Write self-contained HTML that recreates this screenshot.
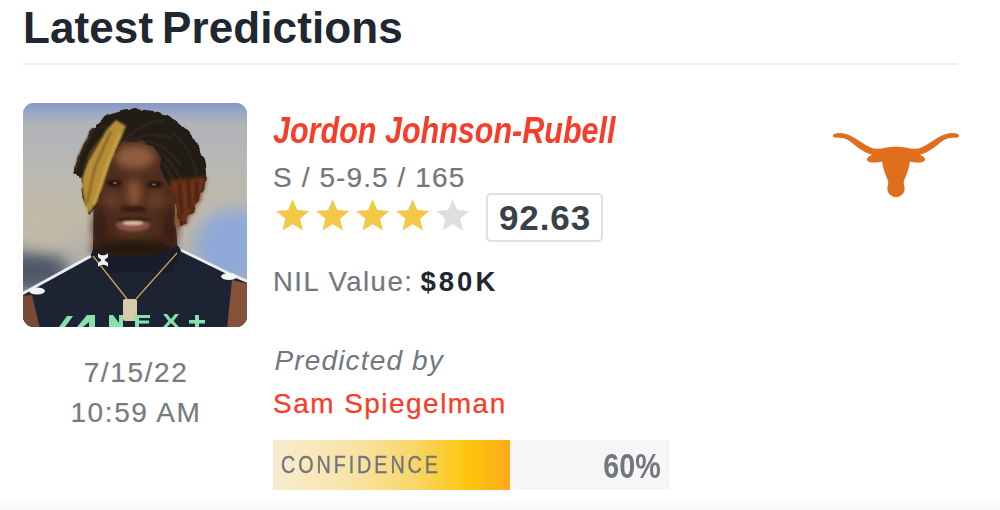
<!DOCTYPE html>
<html>
<head>
<meta charset="utf-8">
<title>Latest Predictions</title>
<style>
*{box-sizing:border-box;margin:0;padding:0}
html,body{width:1000px;height:510px;overflow:hidden;background:#fff}
body{font-family:"Liberation Sans",sans-serif;position:relative;color:#6f747c}
.abs{position:absolute;white-space:nowrap;line-height:1}
#title{left:23px;top:5.500px;font-size:44px;font-weight:bold;color:#1f2731;letter-spacing:0.1px;word-spacing:-3.500px}
#rule{position:absolute;left:23px;top:62.500px;width:935px;height:2px;background:#eceef6}
#photo{position:absolute;left:23px;top:103px;width:224px;height:224px;border-radius:11px;overflow:hidden;background:#aab3c4}
#photo svg{display:block;width:224px;height:224px}
#name{left:273px;top:111.8px;font-size:37px;font-weight:bold;font-style:italic;color:#f83c27;transform-origin:0 0;transform:scaleX(0.825)}
#pos{left:273px;top:164px;font-size:28px;color:#72777f;letter-spacing:1.1px;-webkit-text-stroke:0.2px #72777f}
#stars{position:absolute;left:270px;top:195px;width:210px;height:42px}
#rating{position:absolute;left:486px;top:193px;width:117px;height:49px;border:2px solid #dde2e7;border-radius:5px;background:#fff}
#rating span{position:absolute;left:1px;right:0;top:5px;text-align:center;font-size:35px;font-weight:bold;color:#39414b;line-height:1;letter-spacing:0.9px}
#nil{left:273px;top:268px;font-size:27.500px;color:#72777f;letter-spacing:1.500px;-webkit-text-stroke:0.2px #72777f}
#nilv{left:420.5px;top:268px;font-size:27.5px;font-weight:bold;color:#1f2731;letter-spacing:3px}
#date{left:36px;width:200px;text-align:center;top:353.3px;font-size:28px;color:#767b83;line-height:40px;letter-spacing:1.600px;-webkit-text-stroke:0.2px #767b83}
#predby{left:274.500px;top:346.800px;font-size:28px;font-style:italic;color:#72777f;letter-spacing:1.15px}
#who{left:273px;top:389.600px;font-size:28px;color:#f83c27;letter-spacing:1.46px;-webkit-text-stroke:0.25px #f83c27}
#bar{position:absolute;left:273px;top:440px;width:396.5px;height:50px;background:#f6f6f6}
#fill{position:absolute;left:0;top:0;width:237.300px;height:50px;background:linear-gradient(90deg,#f8ecd0 0%,#f8e3a4 35%,#f9d666 60%,#fdc60c 82%,#fda91a 100%)}
#conf{left:7.5px;top:14px;font-size:23.5px;color:#6f747c;-webkit-text-stroke:0.35px #6f747c;letter-spacing:3.5px;transform-origin:0 0;transform:scaleX(0.84)}
#pct{right:9px;top:8.900px;font-size:35.800px;font-weight:bold;color:#72777f;transform-origin:100% 0;transform:scaleX(0.8)}
#foot{position:absolute;left:0;top:495px;width:1000px;height:15px;background:linear-gradient(180deg,#ffffff 0%,#f7f7f7 100%)}
#logo{position:absolute;left:828px;top:125px;width:136px;height:80px}
</style>
</head>
<body>
<div id="title" class="abs">Latest Predictions</div>
<div id="rule"></div>
<div id="photo">
<svg viewBox="0 0 224 224">
<defs>
<linearGradient id="bg" x1="0" y1="0" x2="0" y2="1">
<stop offset="0" stop-color="#8696c3"/>
<stop offset=".035" stop-color="#97a4c5"/>
<stop offset=".09" stop-color="#b0b3ba"/>
<stop offset=".3" stop-color="#b9b8b2"/>
<stop offset=".5" stop-color="#c0b9a9"/>
<stop offset=".65" stop-color="#b7b2a8"/>
<stop offset="1" stop-color="#9fa7b6"/>
</linearGradient>
<filter id="b8" x="-50%" y="-50%" width="200%" height="200%"><feGaussianBlur stdDeviation="8"/></filter>
<filter id="b4" x="-50%" y="-50%" width="200%" height="200%"><feGaussianBlur stdDeviation="4"/></filter>
<filter id="b2" x="-50%" y="-50%" width="200%" height="200%"><feGaussianBlur stdDeviation="2"/></filter>
<filter id="b1" x="-50%" y="-50%" width="200%" height="200%"><feGaussianBlur stdDeviation="0.8"/></filter>
<filter id="rough" x="-20%" y="-20%" width="140%" height="140%"><feTurbulence type="fractalNoise" baseFrequency="0.09" numOctaves="2" seed="4" result="n"/><feDisplacementMap in="SourceGraphic" in2="n" scale="7" xChannelSelector="R" yChannelSelector="G" result="d"/><feGaussianBlur in="d" stdDeviation="0.7"/></filter>
</defs>
<rect width="224" height="224" fill="url(#bg)"/>
<ellipse cx="212" cy="142" rx="40" ry="36" fill="#8fa9d9" filter="url(#b8)"/>
<ellipse cx="8" cy="168" rx="38" ry="20" fill="#4f5768" filter="url(#b8)"/>
<ellipse cx="20" cy="120" rx="30" ry="25" fill="#c2b9a8" filter="url(#b8)"/>
<!-- body -->
<path d="M-2 192 L68 152 L72 146 L152 142 L157 145 L209 171 L226 178 L226 226 L-2 226 Z" fill="#1e2334"/>
<path d="M-2 193 L9 192 L17 226 L-2 226 Z" fill="#7b4a36"/>
<path d="M209 177 L226 181 L226 226 L204 226 Z" fill="#875038"/>
<path d="M-2 191.5 L68 153" stroke="#e9eef5" stroke-width="3" fill="none"/>
<path d="M156 146 L209 172 L226 179" stroke="#e9eef5" stroke-width="3" fill="none"/>
<ellipse cx="14" cy="188" rx="8" ry="3.5" fill="#f1f4f8"/>
<ellipse cx="206" cy="173.500" rx="8" ry="3.500" fill="#f1f4f8"/>
<!-- face and neck -->
<path d="M70 100 C68 70 75 42 92 36 C108 31 128 32 138 40 C150 52 153 80 152 105 C152 122 155 135 154 146 L150 158 L72 158 L70 146 C70 130 71 118 70 100 Z" fill="#4f2d1d"/>
<ellipse cx="112" cy="54" rx="20" ry="12" fill="#8f5d3d" filter="url(#b4)"/>
<ellipse cx="111" cy="90" rx="7" ry="14" fill="#8a583a" filter="url(#b4)"/>
<ellipse cx="89" cy="97" rx="9" ry="8" fill="#68402a" filter="url(#b4)"/>
<ellipse cx="133" cy="97" rx="9" ry="8" fill="#68402a" filter="url(#b4)"/>
<ellipse cx="110" cy="132" rx="14" ry="5" fill="#5e3825" filter="url(#b4)"/>
<ellipse cx="110" cy="146" rx="42" ry="9" fill="#24140e" filter="url(#b4)"/>
<ellipse cx="77" cy="124" rx="7" ry="18" fill="#341d13" filter="url(#b4)"/>
<ellipse cx="147" cy="124" rx="7" ry="18" fill="#341d13" filter="url(#b4)"/>
<ellipse cx="91" cy="80" rx="8" ry="3.500" fill="#2a1710" filter="url(#b1)"/>
<ellipse cx="132" cy="81.500" rx="8" ry="3.500" fill="#2a1710" filter="url(#b1)"/>
<ellipse cx="92" cy="80" rx="2" ry="1.100" fill="#77645a"/>
<ellipse cx="131" cy="81.500" rx="2" ry="1.100" fill="#77645a"/>
<ellipse cx="110" cy="106" rx="13" ry="3" fill="#351c12" filter="url(#b1)"/>
<ellipse cx="110" cy="122" rx="17" ry="6.500" fill="#8a5147" filter="url(#b1)"/>
<path d="M92 117 C100 114 120 114 128 117 C120 119 100 119 92 117 Z" fill="#2f1810" filter="url(#b1)"/>
<ellipse cx="110" cy="120" rx="10.500" ry="2.300" fill="#d9bd94" filter="url(#b1)"/>
<!-- collar -->
<path d="M68 152 L70 146 C85 156 135 158 154 142 L158 147 L150 170 L80 170 Z" fill="#191d2b"/>
<!-- hair -->
<ellipse cx="155" cy="118" rx="3.500" ry="8" fill="#8d5a3b" filter="url(#b1)"/>
<path d="M52 70 C52 62 53 58 56 52 C60 38 70 22 84 13 C96 6 116 5 130 8 C150 12 166 24 174 40 C180 52 184 64 183 76 L181 86 L178 90 L177 98 L172 102 L171 110 L166 112 L164 120 L159 123 L157 116 L153 110 L151 92 C150 84 146 80 141 77 C140 66 139 56 134 48 C128 40 118 37 108 38 C102 38 98 40 95 44 L90 56 L84 72 L78 90 L72 106 L66 112 L62 102 L59 84 L57 73 Z" fill="#241b19" filter="url(#rough)"/>
<path d="M100 40 C110 26 126 18 140 18 M104 40 C118 30 136 30 150 36 M112 38 C130 36 146 46 158 62 M134 48 C146 56 156 70 162 86 M140 60 C148 70 152 80 154 92 M96 40 C92 28 84 22 76 24 M150 30 C162 40 170 54 174 72" stroke="#43302a" stroke-width="1.600" fill="none" filter="url(#b1)" opacity=".8"/>
<path d="M146 78 L183 74 L181 86 L178 90 L177 98 L172 102 L171 110 L166 112 L164 120 L159 123 L157 116 L153 110 L151 92 Z" fill="#6f3014" filter="url(#b2)"/>
<path d="M156 80 L159 112 M165 78 L167 106 M174 78 L173 98" stroke="#2a1a14" stroke-width="2.4" fill="none" filter="url(#b1)" opacity=".8"/>
<path d="M93 17 L103 23 C98 36 92 48 88 58 L80 82 L74 98 L66 111 L62 102 L59 84 C59 72 62 62 66 52 C74 38 84 26 93 17 Z" fill="#b68e38" filter="url(#b1)"/>
<path d="M88 28 L72 64 L64 100" stroke="#7d5d24" stroke-width="2" fill="none" filter="url(#b1)"/>
<path d="M97 30 L82 68 L71 102" stroke="#cfa94e" stroke-width="2.2" fill="none" filter="url(#b1)"/>
<path d="M80 30 L64 58 L58 72" stroke="#2a1c16" stroke-width="2.4" fill="none" filter="url(#b1)"/>
<path d="M70 26 L56 54 L53 68" stroke="#4a2a18" stroke-width="2.5" fill="none" filter="url(#b1)"/>
<!-- necklace -->
<path d="M70 153 L104 196 M154 150 L113 196" stroke="#c4a45c" stroke-width="1.3" fill="none"/>
<rect x="100" y="196" width="14" height="22" rx="2" fill="#d9cba8"/>
<path d="M75 150 C77 153 83 153 85 150 L85 154 C83 156 82 156 81.500 157 C82 158 83 158 85 160 L85 164 C83 161 77 161 75 164 L75 160 C77 158 78 158 78.500 157 C78 156 77 156 75 154 Z" fill="#f0f3f6"/>
<!-- green text -->
<g fill="#86e2ad">
<path d="M36 224 L44 213 L50 213 L42 224 Z"/>
<path d="M54 224 L64 212 L72 212 L72 224 L66 224 L66 219 L60 224 Z"/>
<path d="M86 224 L86 212 L90 212 L96 220 L96 212 L100 212 L100 224 Z"/>
<path d="M112 212 H127 V215 H116 V217.500 H126 V220.500 H116 V224 H112 Z"/>
<path d="M140 211 L144 211 L148 216 L152 211 L156 211 L150.500 218 L156 224 L152 224 L148 220 L144 224 L140 224 L145.500 218 Z"/>
<path d="M172 212 H176 V217 H182 V220.500 H176 V224 H172 V220.500 H166 V217 H172 Z"/>
</g>
</svg>
</div>
<div id="name" class="abs">Jordon Johnson-Rubell</div>
<div id="pos" class="abs">S / 5-9.5 / 165</div>
<svg id="stars" viewBox="0 0 210 42">
<defs><path id="st" d="M0.000 -17.350 L4.585 -6.310 L16.501 -5.361 L7.418 2.410 L10.198 14.036 L0.000 7.800 L-10.198 14.036 L-7.418 2.410 L-16.501 -5.361 L-4.585 -6.310 Z"/></defs>
<g fill="#f2c848">
<use href="#st" x="22.700" y="21.350"/>
<use href="#st" x="62.700" y="21.350"/>
<use href="#st" x="102.700" y="21.350"/>
<use href="#st" x="142.700" y="21.350"/>
</g>
<use href="#st" x="182.700" y="21.350" fill="#dfdfdf"/>
</svg>
<div id="rating"><span>92.63</span></div>
<div id="nil" class="abs">NIL Value:</div>
<div id="nilv" class="abs">$80K</div>
<div id="date" class="abs">7/15/22<br>10:59 AM</div>
<div id="predby" class="abs">Predicted by</div>
<div id="who" class="abs">Sam Spiegelman</div>
<div id="bar"><div id="fill"></div><div id="conf" class="abs">CONFIDENCE</div><div id="pct" class="abs">60%</div></div>
<svg id="logo" viewBox="0 0 867 510">
<defs><path id="lh" d="M434 138 C410 138 390 140 370 144 C345 152 320 154 290 150 C255 142 225 118 190 96 C160 76 130 60 95 53 C75 50 55 51 42 56 C28 62 28 76 42 80 C60 82 80 80 100 85 C130 94 150 112 175 132 C205 156 240 178 280 190 C270 196 255 203 250 212 C244 224 255 234 268 237 C295 243 325 238 345 232 C348 260 358 295 368 320 C376 340 386 355 384 375 C382 390 376 400 379 415 C383 440 405 460 434 460 Z"/></defs>
<g fill="#df6f1e">
<use href="#lh"/>
<use href="#lh" transform="translate(867 0) scale(-1 1)"/>
</g>
</svg>
<div id="foot"></div>
</body>
</html>
